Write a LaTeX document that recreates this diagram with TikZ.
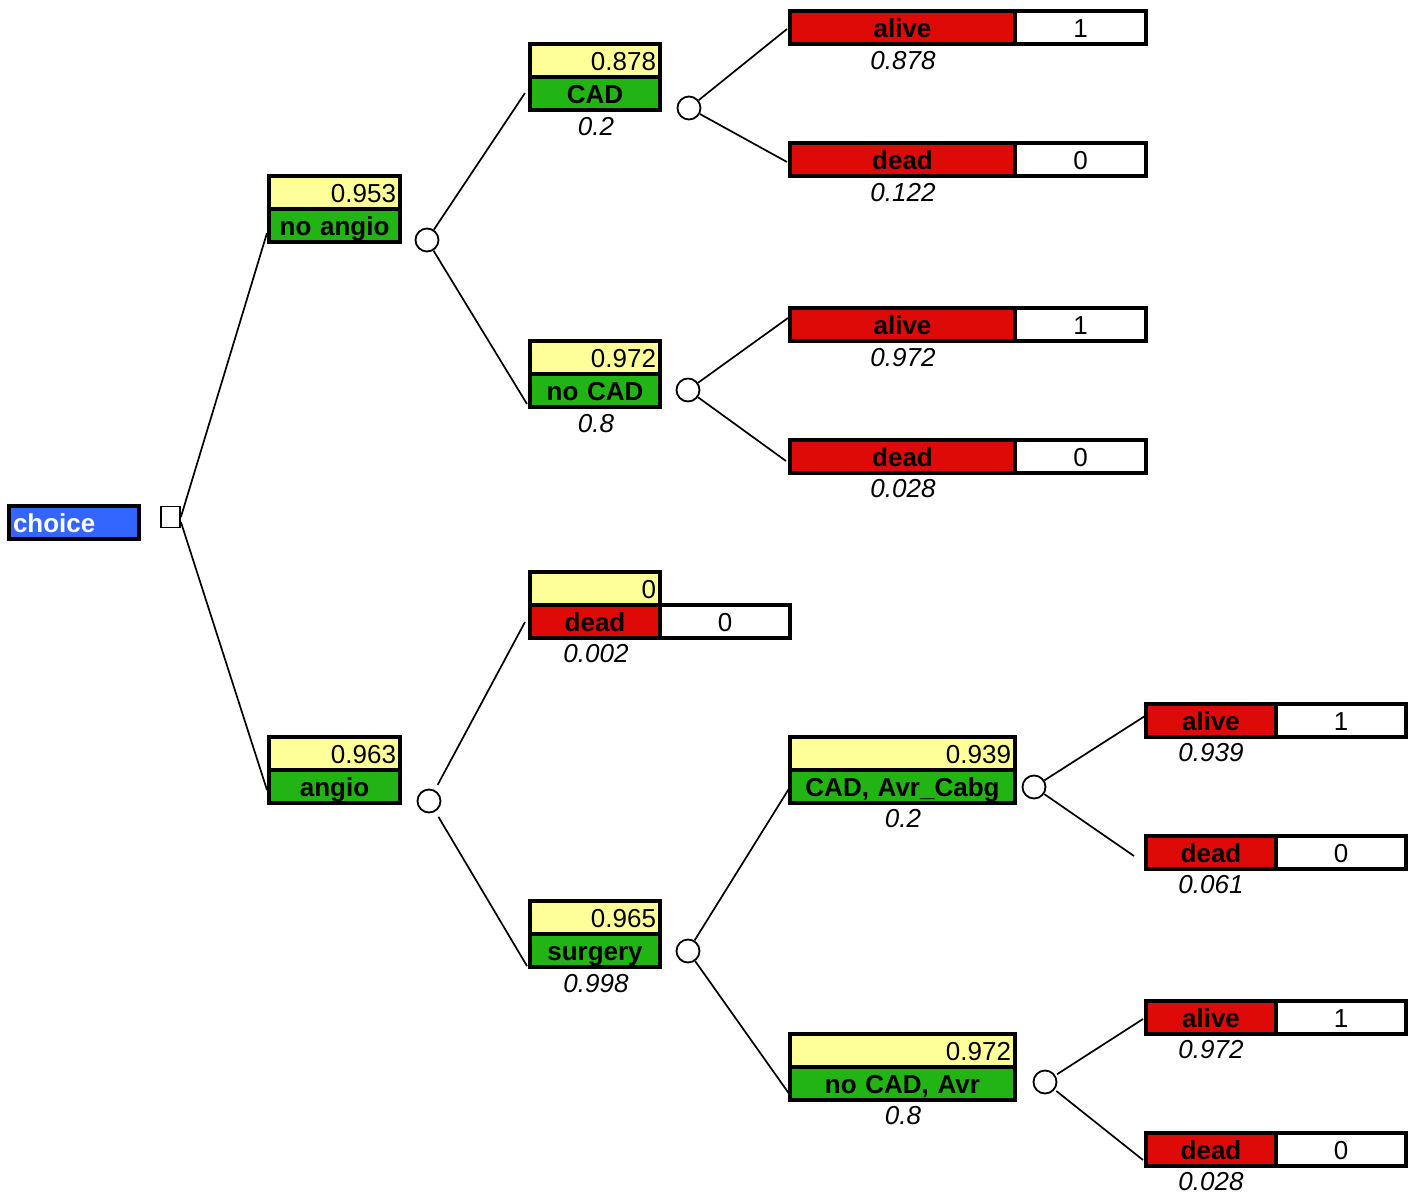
\documentclass[tikz,border=0pt]{standalone}
\usepackage{fontspec}
\setmainfont{Liberation Sans}
\definecolor{yel}{RGB}{255,255,153}
\definecolor{grn}{RGB}{34,180,20}
\definecolor{redb}{RGB}{221,10,8}
\definecolor{blu}{RGB}{51,102,255}
\newcommand\fsz{\fontsize{26}{30}\selectfont}
\tikzset{
  bx/.style={draw=black, line width=3.3pt, inner xsep=4pt, inner ysep=0pt,
    minimum height=33pt, text height=22pt, text depth=3pt, font=\fsz},
  wA/.style={text width=123pt},
  wB/.style={text width=122pt},
  wC/.style={text width=217pt},
  yv/.style={bx, fill=yel, align=right},
  gl/.style={bx, fill=grn, font=\fsz\bfseries, align=center},
  rl/.style={bx, fill=redb, font=\fsz\bfseries, align=center},
  wv/.style={bx, fill=white, align=center},
  pr/.style={font=\fsz\itshape, inner sep=0pt},
  chance/.style={circle, draw, line width=1.8pt, minimum size=23pt, inner sep=0pt},
  decn/.style={rectangle, draw, line width=1.8pt, minimum width=19pt, minimum height=21pt, inner sep=0pt},
  br/.style={line width=1.7pt},
}
\begin{document}
\begin{tikzpicture}[x=1pt,y=-1pt]
\useasboundingbox (0,0) rectangle (1409,1197);
% root
\node[bx, wB, fill=blu, text=white, font=\fsz\bfseries, align=left] (choice) at (74,522.5) {choice};
\node[decn] (sq) at (170.5,517) {};
% level 1
\node[yv, wA] (nay) at (334.5,192.5) {0.953};
\node[gl, wA] (nag) at (334.5,225.5) {no angio};
\node[yv, wA] (any) at (334.5,753.5) {0.963};
\node[gl, wA] (ang) at (334.5,786.5) {angio};
\node[chance] (c1) at (427,240) {};
\node[chance] (c4) at (429,801) {};
% level 2
\node[yv, wB] (cady) at (595,60.5) {0.878};
\node[gl, wB] (cadg) at (595,93.5) {CAD};
\node[pr] (pcad) at (596,127) {0.2};
\node[yv, wB] (ncady) at (595,357.5) {0.972};
\node[gl, wB] (ncadg) at (595,390.5) {no CAD};
\node[pr] (pncad) at (596,424) {0.8};
\node[yv, wB] (d2y) at (595,588.5) {0};
\node[rl, wB] (d2r) at (595,621.5) {dead};
\node[wv, wB] (d2w) at (725,621.5) {0};
\node[pr] (pd2) at (596,654) {0.002};
\node[yv, wB] (sury) at (595,917.5) {0.965};
\node[gl, wB] (surg) at (595,950.5) {surgery};
\node[pr] (psur) at (596,984) {0.998};
\node[chance] (c2) at (689,108) {};
\node[chance] (c3) at (688,390) {};
\node[chance] (c5) at (688,951) {};
% level 3 terminals
\node[rl, wC] (t1r) at (902.5,27.5) {alive};
\node[wv, wA] (t1w) at (1080.5,27.5) {1};
\node[pr] (p1) at (903,61) {0.878};
\node[rl, wC] (t2r) at (902.5,159.5) {dead};
\node[wv, wA] (t2w) at (1080.5,159.5) {0};
\node[pr] (p2) at (903,193) {0.122};
\node[rl, wC] (t3r) at (902.5,324.5) {alive};
\node[wv, wA] (t3w) at (1080.5,324.5) {1};
\node[pr] (p3) at (903,358) {0.972};
\node[rl, wC] (t4r) at (902.5,456.5) {dead};
\node[wv, wA] (t4w) at (1080.5,456.5) {0};
\node[pr] (p4) at (903,489) {0.028};
% level 3 chance
\node[yv, wC] (cay) at (902.5,753.5) {0.939};
\node[gl, wC] (cag) at (902.5,786.5) {CAD, Avr\_Cabg};
\node[pr] (pca) at (903,819) {0.2};
\node[yv, wC] (ncay) at (902.5,1050.5) {0.972};
\node[gl, wC] (ncag) at (902.5,1083.5) {no CAD, Avr};
\node[pr] (pnca) at (903,1116) {0.8};
\node[chance] (c6) at (1034,787) {};
\node[chance] (c7) at (1045,1082) {};
% level 4 terminals
\node[rl, wB] (t5r) at (1211,720.5) {alive};
\node[wv, wB] (t5w) at (1341,720.5) {1};
\node[pr] (p5) at (1211,753) {0.939};
\node[rl, wB] (t6r) at (1211,852.5) {dead};
\node[wv, wB] (t6w) at (1341,852.5) {0};
\node[pr] (p6) at (1211,885) {0.061};
\node[rl, wB] (t7r) at (1211,1017.5) {alive};
\node[wv, wB] (t7w) at (1341,1017.5) {1};
\node[pr] (p7) at (1211,1050) {0.972};
\node[rl, wB] (t8r) at (1211,1149.5) {dead};
\node[wv, wB] (t8w) at (1341,1149.5) {0};
\node[pr] (p8) at (1211,1182) {0.028};
% connector ends
\coordinate (ena) at (267,233);
\coordinate (ean) at (267,790);
\coordinate (ecad) at (525,93);
\coordinate (encad) at (527,404);
\coordinate (et1) at (787,29);
\coordinate (et2) at (787,162);
\coordinate (et3) at (788,318);
\coordinate (et4) at (786,461);
\coordinate (ed2) at (525,622);
\coordinate (esur) at (527,966);
\coordinate (eca) at (790,787);
\coordinate (enca) at (790,1095);
\coordinate (et5) at (1145,716);
\coordinate (et6) at (1134,856);
\coordinate (et7) at (1143,1019);
\coordinate (et8) at (1143,1160);
% connectors
\draw[br] (sq.east) -- (ena);
\draw[br] ([yshift=-5pt]sq.east) -- (ean);
\draw[br] (c1) -- (ecad);
\draw[br] (c1) -- (encad);
\draw[br] (c2) -- (et1);
\draw[br] (c2) -- (et2);
\draw[br] (c3) -- (et3);
\draw[br] (c3) -- (et4);
\draw[br, shorten <=6pt] (c4) -- (ed2);
\draw[br, shorten <=6pt] (c4) -- (esur);
\draw[br] (c5) -- (eca);
\draw[br] (c5) -- (enca);
\draw[br] (c6) -- (et5);
\draw[br] (c6) -- (et6);
\draw[br, shorten <=2pt] (c7) -- (et7);
\draw[br, shorten <=2pt] (c7) -- (et8);
\end{tikzpicture}
\end{document}
